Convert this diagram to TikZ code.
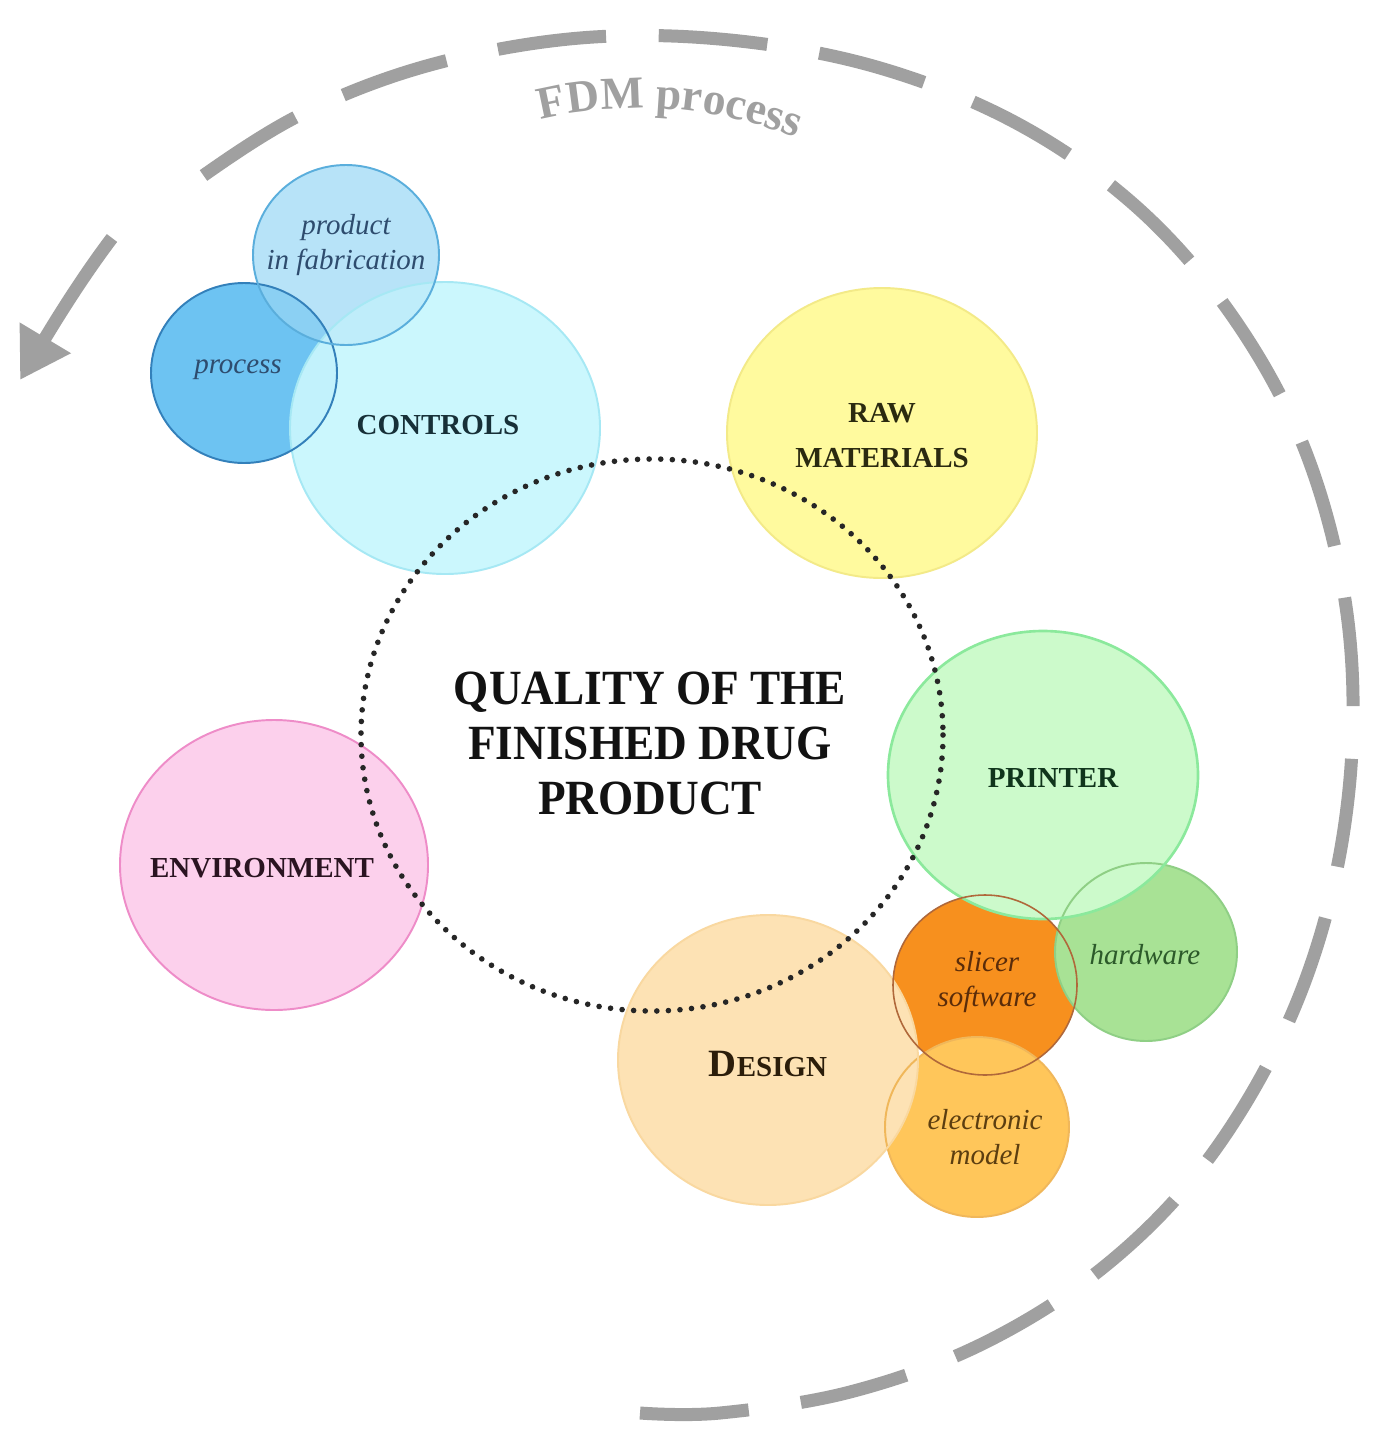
\documentclass[tikz,border=0pt]{standalone}
\usepackage{fontspec}
\setmainfont{Liberation Serif}
\newfontfamily\qualfont{Liberation Serif}[FakeStretch=0.92]
\usetikzlibrary{arrows.meta,decorations.text}
\definecolor{fdmgray}{HTML}{A0A0A0}
\definecolor{ctrlfill}{HTML}{CBF7FD}
\definecolor{ctrlline}{HTML}{A6E8F4}
\definecolor{prodfill}{HTML}{B7E3F8}
\definecolor{prodline}{HTML}{5AAEDC}
\definecolor{procfill}{HTML}{6DC3F2}
\definecolor{procline}{HTML}{3380BA}
\definecolor{ppfill}{HTML}{8BD0F3}
\definecolor{pcfill}{HTML}{C2F2FC}
\definecolor{rcfill}{HTML}{BFEDFA}
\definecolor{rawfill}{HTML}{FFFA9E}
\definecolor{rawline}{HTML}{F3EA88}
\definecolor{envfill}{HTML}{FCD0EC}
\definecolor{envline}{HTML}{EE8CC8}
\definecolor{prtfill}{HTML}{CCFACB}
\definecolor{prtline}{HTML}{8BE99C}
\definecolor{hwfill}{HTML}{A8E295}
\definecolor{hwline}{HTML}{8FCF85}
\definecolor{slfill}{HTML}{F7901E}
\definecolor{slline}{HTML}{B0683A}
\definecolor{elfill}{HTML}{FFC65A}
\definecolor{elline}{HTML}{F0B75A}
\definecolor{desfill}{HTML}{FDE2B4}
\definecolor{desline}{HTML}{F9D8A0}
\definecolor{ctrltext}{HTML}{173038}
\definecolor{bluetext}{HTML}{2E4C6E}
\definecolor{rawtext}{HTML}{2B2A10}
\definecolor{prttext}{HTML}{10351C}
\definecolor{envtext}{HTML}{2A1421}
\definecolor{destext}{HTML}{2B1D0A}
\definecolor{sltext}{HTML}{5A2C0A}
\definecolor{eltext}{HTML}{5C3E10}
\definecolor{hwtext}{HTML}{2C5A2A}
\newcommand\fdmstyle{\color{fdmgray}\fontsize{26}{26}\selectfont\bfseries}
\begin{document}
\begin{tikzpicture}[x=0.02cm,y=-0.02cm,
  lab/.style={font=\fontsize{16.5}{25.6}\selectfont\bfseries, align=center, inner sep=0pt},
  ital/.style={font=\fontsize{16.5}{20}\selectfont\itshape, align=center, inner sep=0pt},
  qual/.style={font=\qualfont\fontsize{28}{31.3}\selectfont\bfseries, align=center, inner sep=0pt, text=black!93},
  border/.style={line width=1.1pt}]
\useasboundingbox (0,0) rectangle (1373,1437);
\fill[white] (0,0) rectangle (1373,1437);
\def\pCtrl{(445,428) ellipse [x radius=155, y radius=146]}
\def\pProd{(346,255) ellipse [x radius=93, y radius=90]}
\def\pProc{(244,373) ellipse [x radius=93, y radius=90]}
\def\pRaw{(882,433) ellipse [x radius=155, y radius=145]}
\def\pEnv{(274,865) ellipse [x radius=154, y radius=145]}
\def\pPrt{(1043,775) ellipse [x radius=155, y radius=144]}
\def\pHw{(1146,952) ellipse [x radius=91, y radius=89]}
\def\pSl{(985,985) ellipse [x radius=92, y radius=90]}
\def\pDes{(768,1060) ellipse [x radius=150, y radius=145]}
\def\pEl{(977,1127) ellipse [x radius=92, y radius=90]}
% blue cluster
\fill[ctrlfill] \pCtrl;
\fill[procfill] \pProc;
\fill[prodfill] \pProd;
\begin{scope}\clip \pProc; \fill[ppfill] \pProd; \end{scope}
\begin{scope}\clip \pProc; \fill[pcfill] \pCtrl; \end{scope}
\begin{scope}\clip \pProd; \fill[rcfill] \pCtrl; \end{scope}
\draw[ctrlline, border] \pCtrl;
\draw[procline, border] \pProc;
\draw[prodline, border] \pProd;
% yellow, pink
\fill[rawfill] \pRaw; \draw[rawline, border] \pRaw;
\fill[envfill] \pEnv; \draw[envline, border] \pEnv;
% green / orange cluster
\fill[slfill] \pSl;
\fill[elfill] \pEl;
\fill[hwfill] \pHw;
\fill[prtfill] \pPrt;
\fill[desfill] \pDes;
\draw[elline, border] \pEl;
\draw[hwline, border] \pHw;
\draw[prtline, line width=1.5pt] \pPrt;
\draw[desline, border] \pDes;
\draw[slline, line width=0.9pt] \pSl;
% dotted quality circle
\draw[black!85, line width=3.2pt, dash pattern=on 0pt off 6.6pt, line cap=round] (652,735) ellipse [x radius=291, y radius=276];
% FDM process arc
\draw[fdmgray, line width=7.4pt, dash pattern=on 62pt off 30pt]
  plot[smooth, tension=0.6] coordinates {(640,1413) (720,1413) (850,1392) (980,1345) (1100,1270) (1200,1170) (1280,1040) (1330,900) (1352,750) (1345,600) (1305,450) (1235,320) (1140,210) (1020,125) (880,68) (730,40) (580,38) (430,65) (300,115) (190,185) (165,210)};
\coordinate (arrS) at (112,238);
\coordinate (arrE) at (20,380);
\draw[fdmgray, line width=7.4pt, -{Triangle[length=28pt, width=32pt]}] (arrS) .. controls (80,280) and (50,330) .. (arrE);
\begin{scope}[x=1cm,y=1cm]
\path[decorate, decoration={text along path, text align=center, text={|\fdmstyle|FDM process}}]
  (10.2,-2.572) arc[start angle=108.03, end angle=63.71, radius=8.4];
\end{scope}
% labels
\node[lab, text=ctrltext] (controls) at (438,425) {CONTROLS};
\node[ital, text=bluetext, font=\fontsize{16.5}{19.5}\selectfont\itshape] (prodfab) at (346,245) {product\\in fabrication};
\node[ital, text=bluetext] (process) at (238,370) {process};
\node[lab, text=rawtext] (raw) at (882,436) {RAW\\MATERIALS};
\node[qual] (quality) at (650,743) {QUALITY OF THE\\FINISHED DRUG\\PRODUCT};
\node[lab, text=prttext] (printer) at (1053,778) {PRINTER};
\node[lab, text=envtext] (env) at (262,868) {ENVIRONMENT};
\node[lab, text=destext] (design) at (768,1064) {{\fontsize{22}{22}\selectfont D}ESIGN};
\node[ital, text=hwtext] (hardware) at (1145,955) {hardware};
\node[ital, text=sltext] (slicer) at (987,982) {slicer\\software};
\node[ital, text=eltext] (elec) at (985,1137) {electronic\\model};
\end{tikzpicture}
\end{document}
